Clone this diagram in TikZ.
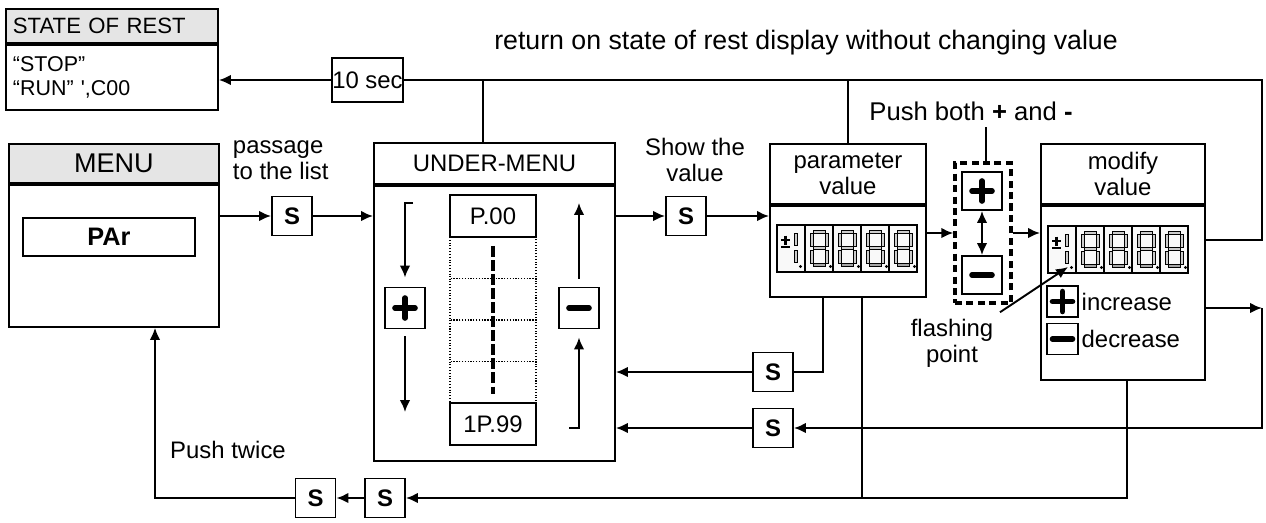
\documentclass[tikz,border=0pt]{standalone}
\usepackage{fontspec}
\setmainfont{Liberation Sans}
\usetikzlibrary{arrows.meta,positioning,calc}

\begin{document}
\begin{tikzpicture}[x=0.02cm,y=-0.02cm,>={Latex[length=6.8pt,width=6pt]},line width=1.1pt,
  font=\fontsize{13.6}{14.6}\selectfont,
  box/.style={draw,anchor=north west,inner sep=0pt},
  hdr/.style={box,fill=gray!20},
  sbtn/.style={draw,minimum width=0.8cm,minimum height=0.78cm,inner sep=0pt,font=\fontsize{13.6}{14.6}\selectfont\bfseries},
  pkey/.style={draw,minimum width=0.8cm,minimum height=0.82cm,inner sep=0pt},
  small/.style={minimum width=0.62cm,minimum height=0.62cm},
  plusk/.style={path picture={\draw[line width=3.2pt,line cap=round]
    ([xshift=-0.2cm]path picture bounding box.center) -- ([xshift=0.2cm]path picture bounding box.center)
    ([yshift=-0.2cm]path picture bounding box.center) -- ([yshift=0.2cm]path picture bounding box.center);}},
  minusk/.style={path picture={\draw[line width=3.2pt,line cap=round]
    ([xshift=-0.2cm]path picture bounding box.center) -- ([xshift=0.2cm]path picture bounding box.center);}},
  arr/.style={->},
  seg/.style={draw,line width=0.4pt,fill=gray!40},
  disp/.pic={
    \draw[line width=0.8pt,fill=gray!5] (0,0) rectangle (140,47);
    \foreach \k in {1,...,4} \draw[line width=0.6pt] (28*\k,0) -- (28*\k,47);
    \draw[line width=1.3pt] (4,15) -- (13,15) (8.5,10.5) -- (8.5,19.5) (4,22) -- (13,22);
    \draw[seg] (17,8) rectangle (20.5,20) (17,25) rectangle (20.5,37);
    \fill (23.5,41.5) circle (0.9pt);
    \foreach \k in {1,...,4} {
      \begin{scope}[shift={(28*\k,0)}]
        \draw[seg] (8,5) rectangle (20,8) (5,8) rectangle (8,21) (20,8) rectangle (23,21)
          (8,21.5) rectangle (20,24.5) (5,25) rectangle (8,38) (20,25) rectangle (23,38);
        \draw[seg,fill=gray!70] (8,38) rectangle (20,41);
        \fill (25.5,41.5) circle (0.9pt);
      \end{scope}}
  }]
  \useasboundingbox (0,0) rectangle (1266,522);

  \node[hdr,minimum width=4.24cm,minimum height=0.68cm,inner xsep=0.14cm,text width=3.96cm,align=left,font=\fontsize{12.6}{13.6}\selectfont] (resth) at (5,8) {STATE OF REST};
  \node[box,minimum width=4.24cm,minimum height=1.3cm,inner xsep=0.14cm,text width=3.96cm,align=left,font=\fontsize{12.2}{14.2}\selectfont] (rest) at (resth.south west) {``STOP''\\``RUN'' \textquotesingle,C00};
  \node[draw,minimum width=1.38cm,minimum height=0.88cm,inner sep=0pt] (tensec) at (367.5,80) {10 sec};
  \node[font=\fontsize{15.2}{16}\selectfont] (retn) at (806,43) {return on state of rest display without changing value};

  \node[hdr,minimum width=4.2cm,minimum height=0.78cm,font=\fontsize{15.4}{16}\selectfont] (menuh) at (8,143) {MENU};
  \node[box,minimum width=4.2cm,minimum height=2.84cm] (menu) at (menuh.south west) {};
  \node[draw,minimum width=3.44cm,minimum height=0.76cm,inner sep=0pt,font=\fontsize{14.4}{15}\selectfont\bfseries] (par) at (109,237) {PAr};
  \node[anchor=west,align=left,inner sep=0pt] (passage) at (232,160) {passage\\to the list};

  \node[box,minimum width=4.82cm,minimum height=0.82cm] (underh) at (373,142) {UNDER-MENU};
  \node[box,minimum width=4.82cm,minimum height=5.5cm] (under) at (underh.south west) {};
  \node[draw,minimum width=1.72cm,minimum height=0.84cm,inner sep=0pt] (p00) at (493,216) {P.00};
  \node[draw,minimum width=1.72cm,minimum height=0.84cm,inner sep=0pt] (p99) at (493,424) {1P.99};
  \foreach \y in {237,278.5,320,361.5}
    \draw[line width=0.6pt,densely dotted] (450,\y) rectangle (536,\y+41.5);
  \draw[line width=2.2pt,dash pattern=on 6pt off 2pt] ([yshift=-0.16cm]p00.south) -- ([yshift=0.16cm]p99.north);
  \node[pkey,plusk] (plus1) at (405,308) {};
  \node[pkey,minusk] (minus1) at (579,308) {};
  \coordinate (pa) at (413,203);
  \coordinate (pz) at (405,412);
  \coordinate (ma) at (579,203);
  \coordinate (mz) at (569,428);
  \draw[arr] (pa) -| ([yshift=0.18cm]plus1.north);
  \draw[arr] ([yshift=-0.14cm]plus1.south) -- (pz);
  \draw[arr] ([yshift=0.16cm]minus1.north) -- (ma);
  \draw[arr] (mz) -| ([yshift=-0.16cm]minus1.south);
  \node[align=center] (show) at (695,160) {Show the\\value};

  \node[box,minimum width=3.12cm,minimum height=1.2cm,align=center] (pvh) at (769,143) {parameter\\value};
  \node[box,minimum width=3.12cm,minimum height=1.82cm] (pv) at (pvh.south west) {};
  \pic at (777,225) {disp};

  \node[draw,line width=2pt,dash pattern=on 4pt off 2.5pt,minimum width=1.12cm,minimum height=2.8cm] (both) at (983,233) {};
  \node[pkey,plusk,minimum height=0.76cm] (plus2) at (982,191) {};
  \node[pkey,minusk,minimum height=0.76cm] (minus2) at (982,275) {};
  \draw[<->] (plus2) -- (minus2);
  \node[font=\fontsize{14.6}{15}\selectfont] (pushboth) at (971,111) {Push both \textbf{+} and \textbf{-}};
  \draw ([xshift=0.06cm]both.north) -- ([xshift=0.06cm]both.north |- pushboth.south);

  \node[box,minimum width=3.28cm,minimum height=1.2cm,align=center] (mvh) at (1040,143) {modify\\value};
  \node[box,minimum width=3.28cm,minimum height=3.48cm] (mv) at (mvh.south west) {};
  \pic at (1048,226) {disp};
  \node[pkey,small,plusk] (incb) at (1062.5,301.5) {};
  \node[anchor=west,inner sep=1pt] (inc) at (incb.east) {increase};
  \node[pkey,small,minusk] (decb) at (1062.5,339) {};
  \node[anchor=west,inner sep=1pt] (dec) at (decb.east) {decrease};

  \node[align=center] (flash) at (952,343) {flashing\\point};
  \coordinate (fp) at (1068,267);
  \draw[arr] (flash.north east) -- (fp);

  \node[sbtn] (s1) at (292,216) {S};
  \node[sbtn] (s2) at (686,216) {S};
  \node[sbtn] (s3) at (773,372) {S};
  \node[sbtn] (s4) at (773,428) {S};
  \node[sbtn] (s5) at (315.5,498) {S};
  \node[sbtn] (s6) at (385,498) {S};
  \node (twice) at (228,450) {Push twice};

  \coordinate (tr) at (1262,80);
  \coordinate (tm) at (1262,240);
  \draw[arr] (tensec) -- (tensec -| rest.east);
  \draw (tensec.east) -- (tr) -- (tm) -- (tm -| mv.east);
  \draw ([xshift=-0.22cm]underh.north) -- ([xshift=-0.22cm]underh.north |- tr);
  \draw (pvh.north) -- (pvh.north |- tr);

  \draw[arr] (menu.east |- s1) -- (s1);
  \draw[arr] (s1) -- (s1 -| under.west);
  \draw[arr] (under.east |- s2) -- (s2);
  \draw[arr] (s2) -- (s2 -| pv.west);
  \draw[arr] (pv.east |- both) -- (both);
  \draw[arr] (both) -- (both -| mv.west);

  \coordinate (pr) at (823,372);
  \draw (pv.south -| pr) -- (pr) -- (s3);
  \draw[arr] (s3) -- (s3 -| under.east);
  \coordinate (mr) at (1262,308);
  \draw[arr] (mv.east |- mr) -- (mr);
  \draw[arr] (mr) |- (s4);
  \draw[arr] (s4) -- (s4 -| under.east);

  \coordinate (pb) at (862,498);
  \coordinate (mb) at (1127,498);
  \coordinate (lb) at (155,498);
  \draw (pv.south -| pb) -- (pb);
  \draw[arr] (mv.south -| mb) -- (mb) -- (s6);
  \draw[arr] (s6) -- (s5);
  \draw[arr] (s5) -- (lb) -- (lb |- menu.south);
\end{tikzpicture}
\end{document}
